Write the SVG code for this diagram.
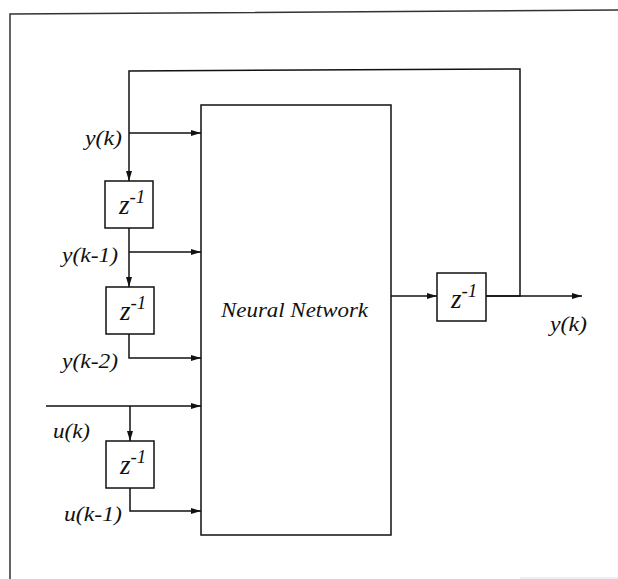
<svg xmlns="http://www.w3.org/2000/svg" width="618" height="579" viewBox="0 0 618 579">
<defs>
<marker id="arr" viewBox="0 0 10 6" refX="10" refY="3" markerWidth="10" markerHeight="6" markerUnits="userSpaceOnUse" orient="auto">
<path d="M0,0 L10,3 L0,6 z" fill="#111"/>
</marker>
</defs>
<style>
.ln{fill:none;stroke:#111;stroke-width:1.5}
.bx{fill:#fff;stroke:#111;stroke-width:1.5}
.frame{fill:none;stroke:#333;stroke-width:1.5}
.lbl{font-family:"Liberation Serif","Times New Roman",serif;font-style:italic;font-size:21px;fill:#111}
.z{font-family:"Liberation Serif","Times New Roman",serif;font-style:italic;font-size:27px;fill:#111}
.sup{font-size:19px}
</style>
<rect width="618" height="579" fill="#fff"/>
<polyline class="frame" points="10,579 10,14 618,10"/>
<line x1="520" y1="578" x2="618" y2="578" stroke="#ddd" stroke-width="1"/>

<g id="connectors">
<polyline class="ln" points="486,296 520,296 520,69 129,71 129,181" marker-end="url(#arr)"/>
<line class="ln" x1="129" y1="133" x2="201" y2="133" marker-end="url(#arr)"/>
<line class="ln" x1="129" y1="228" x2="129" y2="287" marker-end="url(#arr)"/>
<line class="ln" x1="129" y1="252" x2="201" y2="252" marker-end="url(#arr)"/>
<polyline class="ln" points="129,334 129,358 201,358" marker-end="url(#arr)"/>
<line class="ln" x1="46" y1="406" x2="201" y2="406" marker-end="url(#arr)"/>
<line class="ln" x1="130" y1="406" x2="130" y2="441" marker-end="url(#arr)"/>
<polyline class="ln" points="130,488 130,511 201,511" marker-end="url(#arr)"/>
<line class="ln" x1="391" y1="296" x2="437" y2="296" marker-end="url(#arr)"/>
<line class="ln" x1="486" y1="296" x2="582" y2="296" marker-end="url(#arr)"/>
</g>

<g id="nn">
<rect class="bx" x="201" y="105" width="190" height="430"/>
<text class="lbl" x="221" y="317" textLength="147" lengthAdjust="spacingAndGlyphs">Neural Network</text>
</g>

<g id="delay1">
<rect class="bx" x="105" y="181" width="48" height="47"/>
<text class="z" x="119" y="214">z<tspan class="sup" dy="-11">-1</tspan></text>
</g>
<g id="delay2">
<rect class="bx" x="106" y="287" width="48" height="47"/>
<text class="z" x="120" y="320">z<tspan class="sup" dy="-11">-1</tspan></text>
</g>
<g id="delay3">
<rect class="bx" x="106" y="441" width="48" height="47"/>
<text class="z" x="120" y="474">z<tspan class="sup" dy="-11">-1</tspan></text>
</g>
<g id="delay4">
<rect class="bx" x="437" y="273" width="49" height="48"/>
<text class="z" x="451" y="308">z<tspan class="sup" dy="-11">-1</tspan></text>
</g>

<g id="labels">
<text class="lbl" x="85" y="145" textLength="37" lengthAdjust="spacingAndGlyphs">y(k)</text>
<text class="lbl" x="62" y="262" textLength="56" lengthAdjust="spacingAndGlyphs">y(k-1)</text>
<text class="lbl" x="62" y="368" textLength="56" lengthAdjust="spacingAndGlyphs">y(k-2)</text>
<text class="lbl" x="53" y="438" textLength="37" lengthAdjust="spacingAndGlyphs">u(k)</text>
<text class="lbl" x="64" y="521" textLength="58" lengthAdjust="spacingAndGlyphs">u(k-1)</text>
<text class="lbl" x="550" y="331" textLength="37" lengthAdjust="spacingAndGlyphs">y(k)</text>
</g>
</svg>
